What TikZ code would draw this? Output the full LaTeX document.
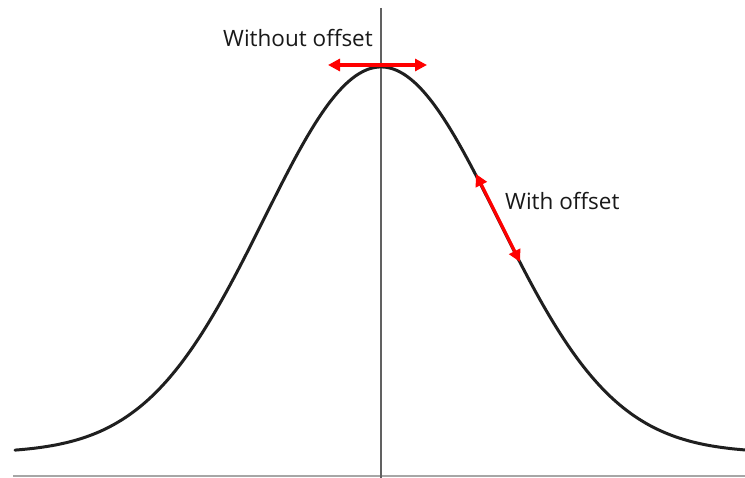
\documentclass[tikz,border=0pt]{standalone}
\usepackage{fontspec}
\setmainfont{Open Sans}
\usetikzlibrary{arrows.meta}
\begin{document}
\begin{tikzpicture}[x=1pt,y=-1pt,
  curve/.style={line width=3pt,color=black!88},
  axisline/.style={line width=2.2pt,color=black!62},
  baseline/.style={line width=1.8pt,color=black!35},
  offsetarrow/.style={line width=3.2pt,color=red,
    {Triangle[length=12pt,width=12pt]}-{Triangle[length=12pt,width=12pt]}},
  lbl/.style={font=\fontsize{22.5}{26}\selectfont,text=black!90,inner sep=0pt,anchor=base west}]
\useasboundingbox[fill=white] (0,0) rectangle (745,478);
% baseline and axis
\coordinate (b0) at (13,476);
\coordinate (b1) at (745,476);
\draw[baseline] (b0) -- (b1);
\coordinate (a0) at (381,8);
\coordinate (a1) at (381,478);
\draw[axisline] (a0) -- (a1);
% bell curve
\draw[curve,line cap=round] plot[domain=15:745,samples=200,smooth]
  (\x,{453-386*exp(-0.5*((\x-381)/117)^2)});
% arrows
\coordinate (h0) at (328,65);
\coordinate (h1) at (427,65);
\draw[offsetarrow] (h0) -- (h1);
\coordinate (s0) at (476,174);
\coordinate (s1) at (520,262);
\draw[offsetarrow] (s0) -- (s1);
% labels
\node[lbl] (wo) at (223,47) {Without offset};
\node[lbl] (w) at (505,210) {With offset};
\end{tikzpicture}
\end{document}
